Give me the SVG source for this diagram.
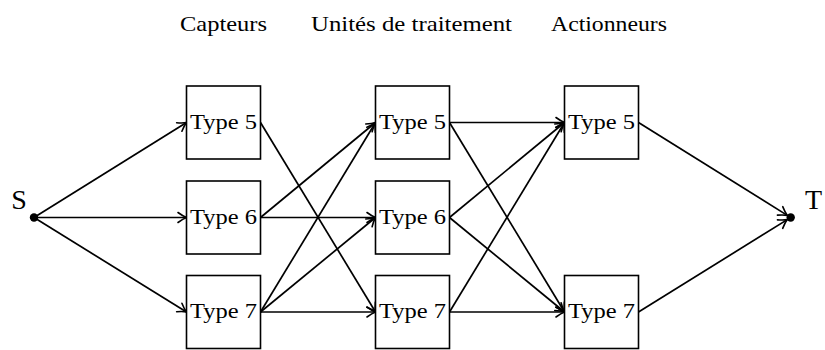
<svg xmlns="http://www.w3.org/2000/svg" width="825" height="350" viewBox="0 0 825 350">
<style>
  .box { fill: #fff; stroke: #000; stroke-width: 1.6; }
  .lbl { font-family: "Liberation Serif", "Times New Roman", serif; font-size: 22px; fill: #000; text-anchor: middle; }
  .big { font-family: "Liberation Serif", "Times New Roman", serif; font-size: 28px; fill: #000; text-anchor: middle; }
  .e { stroke: #000; stroke-width: 1.7; fill: none; marker-end: url(#arr); }
  .dot { fill: #000; }
</style>
<defs>
  <marker id="arr" viewBox="-12 -7 14 14" refX="0" refY="0" markerWidth="14" markerHeight="14" orient="auto" markerUnits="userSpaceOnUse">
    <path d="M-8.5,-5 C-5.5,-2.8 -2.2,-0.8 0,0 C-2.2,0.8 -5.5,2.8 -8.5,5" fill="none" stroke="#000" stroke-width="1.6" stroke-linecap="round" stroke-linejoin="round"/>
  </marker>
</defs>

<g id="titles">
  <text class="lbl" x="223.5" y="31" textLength="87" lengthAdjust="spacingAndGlyphs">Capteurs</text>
  <text class="lbl" x="411.5" y="31" textLength="201" lengthAdjust="spacingAndGlyphs">Unités de traitement</text>
  <text class="lbl" x="609" y="31" textLength="116" lengthAdjust="spacingAndGlyphs">Actionneurs</text>
</g>

<g id="connectors">
  <line class="e" x1="34" y1="217.5" x2="186.5" y2="122.5"/>
  <line class="e" x1="34" y1="217.5" x2="186.5" y2="217.5"/>
  <line class="e" x1="34" y1="217.5" x2="186.5" y2="312"/>

  <line class="e" x1="260.5" y1="122.5" x2="375.5" y2="312"/>
  <line class="e" x1="260.5" y1="217.5" x2="375.5" y2="122.5"/>
  <line class="e" x1="260.5" y1="217.5" x2="375.5" y2="217.5"/>
  <line class="e" x1="260.5" y1="312" x2="375.5" y2="122.5"/>
  <line class="e" x1="260.5" y1="312" x2="375.5" y2="217.5"/>
  <line class="e" x1="260.5" y1="312" x2="375.5" y2="312"/>

  <line class="e" x1="449.5" y1="122.5" x2="564.5" y2="122.5"/>
  <line class="e" x1="449.5" y1="122.5" x2="564.5" y2="312"/>
  <line class="e" x1="449.5" y1="217.5" x2="564.5" y2="122.5"/>
  <line class="e" x1="449.5" y1="217.5" x2="564.5" y2="312"/>
  <line class="e" x1="449.5" y1="312" x2="564.5" y2="122.5"/>
  <line class="e" x1="449.5" y1="312" x2="564.5" y2="312"/>

  <line class="e" x1="638.5" y1="122.5" x2="787.3" y2="215.4"/>
  <line class="e" x1="638.5" y1="312" x2="787.3" y2="219.6"/>
</g>

<g id="S">
  <circle class="dot" cx="34" cy="217.5" r="4.2"/>
  <text class="big" x="19" y="208.5">S</text>
</g>
<g id="T">
  <circle class="dot" cx="790.7" cy="217.5" r="4.2"/>
  <text class="big" x="813.5" y="208.5">T</text>
</g>

<g id="c1r1"><rect class="box" x="186.5" y="86" width="74" height="73"/><text class="lbl" x="223.5" y="128.5" textLength="67" lengthAdjust="spacingAndGlyphs">Type 5</text></g>
<g id="c1r2"><rect class="box" x="186.5" y="181" width="74" height="73"/><text class="lbl" x="223.5" y="223.5" textLength="67" lengthAdjust="spacingAndGlyphs">Type 6</text></g>
<g id="c1r3"><rect class="box" x="186.5" y="275.5" width="74" height="73"/><text class="lbl" x="223.5" y="318" textLength="67" lengthAdjust="spacingAndGlyphs">Type 7</text></g>

<g id="c2r1"><rect class="box" x="375.5" y="86" width="74" height="73"/><text class="lbl" x="412.5" y="128.5" textLength="67" lengthAdjust="spacingAndGlyphs">Type 5</text></g>
<g id="c2r2"><rect class="box" x="375.5" y="181" width="74" height="73"/><text class="lbl" x="412.5" y="223.5" textLength="67" lengthAdjust="spacingAndGlyphs">Type 6</text></g>
<g id="c2r3"><rect class="box" x="375.5" y="275.5" width="74" height="73"/><text class="lbl" x="412.5" y="318" textLength="67" lengthAdjust="spacingAndGlyphs">Type 7</text></g>

<g id="c3r1"><rect class="box" x="564.5" y="86" width="74" height="73"/><text class="lbl" x="601.5" y="128.5" textLength="67" lengthAdjust="spacingAndGlyphs">Type 5</text></g>
<g id="c3r3"><rect class="box" x="564.5" y="275.5" width="74" height="73"/><text class="lbl" x="601.5" y="318" textLength="67" lengthAdjust="spacingAndGlyphs">Type 7</text></g>
</svg>
